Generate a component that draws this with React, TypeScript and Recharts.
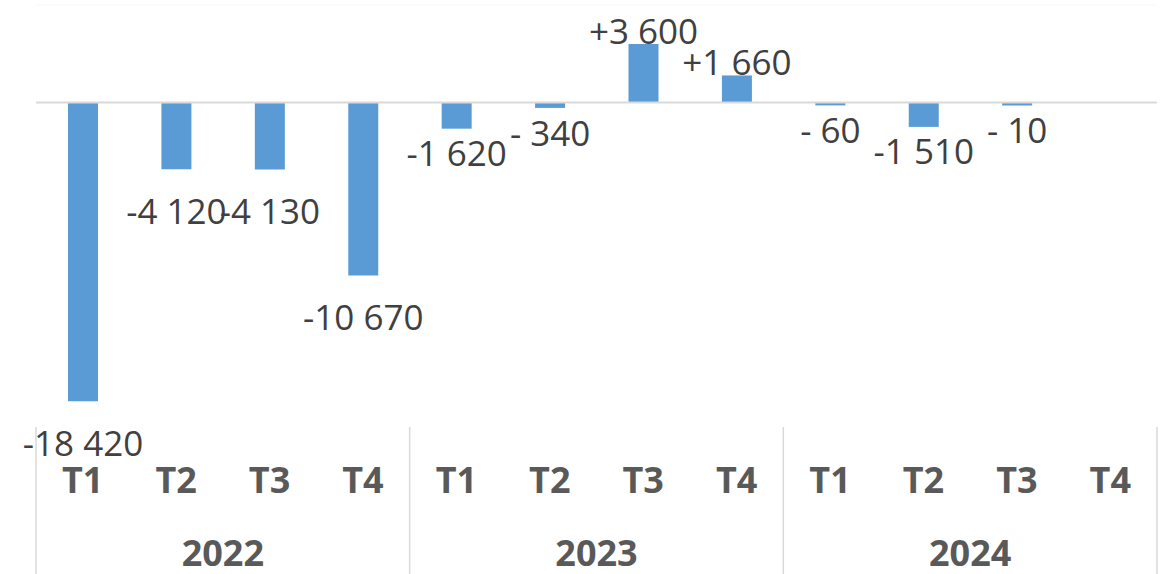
import { Bar, BarChart, LabelList, ReferenceLine, XAxis, YAxis } from 'recharts';

// Quarterly change, grouped by year (Excel-style multi-level category axis).
const QUARTERS = ['T1', 'T2', 'T3', 'T4', 'T1', 'T2', 'T3', 'T4', 'T1', 'T2', 'T3', 'T4'];
const YEARS = ['2022', '2022', '2022', '2022', '2023', '2023', '2023', '2023', '2024', '2024', '2024', '2024'];
const VALUES: Array<number | null> = [-18420, -4120, -4130, -10670, -1620, -340, 3600, 1660, -60, -1510, -10, null];
const Y_DOMAIN: [number, number] = [-20000, 6000];

const W = 1165;
const H = 574;
const MARGIN = { top: 5, right: 8, left: 36, bottom: 0 };
const PLOT_W = W - MARGIN.left - MARGIN.right;
const Q_AXIS_H = 75;
const YEAR_AXIS_H = 72;

const BLUE = '#5B9BD5';
const LINE = '#D9D9D9';
const FONT = '"Open Sans", "Liberation Sans", sans-serif';

const data = VALUES.map((v, i) => ({ q: QUARTERS[i], year: YEARS[i], value: v }));
const yearCount = new Set(YEARS).size;

function fmt(v: number): string {
  const abs = Math.abs(v);
  const grouped = String(abs).replace(/\B(?=(\d{3})+(?!\d))/g, ' ');
  if (v > 0) return `+${grouped}`;
  return abs < 1000 ? `- ${grouped}` : `-${grouped}`;
}

function ValueLabel(props: any) {
  const { x, y, width, height, value } = props;
  if (value == null) return null;
  const top = Math.min(y, y + height);
  const bottom = Math.max(y, y + height);
  const cy = value > 0 ? top - 13 : bottom + (bottom - top > 40 ? 42 : 25);
  return (
    <text
      x={x + width / 2}
      y={cy}
      dy="0.36em"
      textAnchor="middle"
      fill="#404040"
      fontSize={35}
      fontFamily={FONT}
    >
      {fmt(value)}
    </text>
  );
}

function QuarterTick({ x, y, payload }: any) {
  return (
    <text x={x} y={y + 66} textAnchor="middle" fill="#595959" fontSize={36} fontWeight={700} fontFamily={FONT}>
      {payload.value}
    </text>
  );
}

function YearTick({ x, y, payload, index }: any) {
  const half = PLOT_W / yearCount / 2;
  const top = y - Q_AXIS_H;
  const bottom = y + YEAR_AXIS_H;
  return (
    <g>
      <line x1={x - half} x2={x - half} y1={top} y2={bottom} stroke={LINE} strokeWidth={1.5} />
      {index === yearCount - 1 && (
        <line x1={x + half} x2={x + half} y1={top} y2={bottom} stroke={LINE} strokeWidth={1.5} />
      )}
      <text x={x} y={y + 64} textAnchor="middle" fill="#595959" fontSize={36} fontWeight={700} fontFamily={FONT}>
        {payload.value}
      </text>
    </g>
  );
}

export default function App() {
  return (
    <div style={{ position: 'absolute', left: 0, top: 0, width: W, height: H, background: '#fff' }}>
      <BarChart width={W} height={H} data={data} margin={MARGIN} barSize={30}>
        <XAxis
          dataKey="q"
          height={Q_AXIS_H}
          axisLine={false}
          tickLine={false}
          tickSize={0}
          tickMargin={0}
          interval={0}
          tick={<QuarterTick />}
        />
        <XAxis
          xAxisId="year"
          dataKey="year"
          allowDuplicatedCategory={false}
          height={YEAR_AXIS_H}
          axisLine={false}
          tickLine={false}
          tickSize={0}
          tickMargin={0}
          interval={0}
          tick={<YearTick />}
        />
        <YAxis hide domain={Y_DOMAIN} />
        <ReferenceLine y={Y_DOMAIN[1]} stroke="#F7F7F7" strokeWidth={1} />
        <ReferenceLine y={0} stroke={LINE} strokeWidth={2} />
        <Bar dataKey="value" fill={BLUE} minPointSize={3} isAnimationActive={false}>
          <LabelList dataKey="value" content={<ValueLabel />} />
        </Bar>
      </BarChart>
    </div>
  );
}
